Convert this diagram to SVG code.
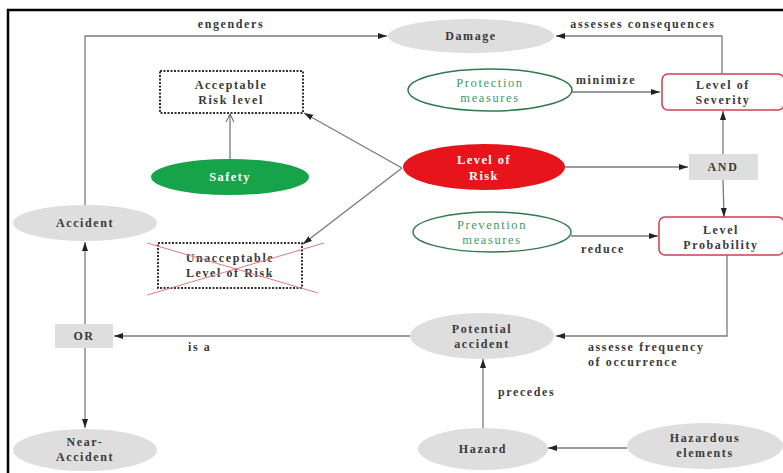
<svg xmlns="http://www.w3.org/2000/svg" width="783" height="473" viewBox="0 0 783 473">
<style>
.t{font-family:"Liberation Serif",serif;font-size:12px;font-weight:bold;fill:#3a3a3a;letter-spacing:1.6px;text-anchor:middle}
.l{font-family:"Liberation Serif",serif;font-size:12px;font-weight:bold;fill:#3a3a3a;letter-spacing:1.6px}
.g{font-family:"Liberation Serif",serif;font-size:12.5px;fill:#3f9a6c;letter-spacing:1.6px;text-anchor:middle}
.w{font-family:"Liberation Serif",serif;font-size:12.5px;font-weight:bold;fill:#ffffff;letter-spacing:1.4px;text-anchor:middle}
.grey{fill:#dedede;stroke:none}
.e{fill:none;stroke:#7a7a7a;stroke-width:1.3}
.dot{fill:#fff;stroke:#333;stroke-width:2;stroke-dasharray:2 1.5}
.sev{fill:#fff;stroke:#cc4050;stroke-width:1.5}
.gm{fill:#fff;stroke:#2f7a4c;stroke-width:1.5}
</style>
<defs>
<marker id="a" markerWidth="10" markerHeight="8" refX="9" refY="4" orient="auto" markerUnits="userSpaceOnUse">
<path d="M0,1 L9,4 L0,7 z" fill="#222"/>
</marker>
<marker id="o" markerWidth="10" markerHeight="10" refX="9" refY="5" orient="auto" markerUnits="userSpaceOnUse">
<path d="M1,1 L9,5 L1,9" fill="none" stroke="#555" stroke-width="1"/>
</marker>
</defs>
<rect x="0" y="0" width="783" height="473" fill="#fff"/>
<path d="M8,473 L8,10 L783,10" fill="none" stroke="#000" stroke-width="2.5"/>

<g id="connectors">
<path class="e" d="M85,205 L85,36 L387,36" marker-end="url(#a)"/>
<path class="e" d="M722,74 L722,36 L556,36" marker-end="url(#a)"/>
<path class="e" d="M230,159 L230,114" marker-end="url(#o)"/>
<path class="e" d="M402,168 L304,113" marker-end="url(#a)"/>
<path class="e" d="M402,168 L303,244" marker-end="url(#a)"/>
<path class="e" d="M572,92 L660,92" marker-end="url(#a)"/>
<path class="e" d="M565,167 L688,167" marker-end="url(#a)"/>
<path class="e" d="M723,154 L723,111" marker-end="url(#a)"/>
<path class="e" d="M723,180 L724,217" marker-end="url(#a)"/>
<path class="e" d="M571,236 L658,236" marker-end="url(#a)"/>
<path class="e" d="M727,255 L727,336 L556,336" marker-end="url(#a)"/>
<path class="e" d="M410,336 L114,336" marker-end="url(#a)"/>
<path class="e" d="M85,324 L85,242" marker-end="url(#a)"/>
<path class="e" d="M85,348 L85,428" marker-end="url(#a)"/>
<path class="e" d="M483,428 L483,359" marker-end="url(#a)"/>
<path class="e" d="M627,448 L548,448" marker-end="url(#a)"/>
<text class="t" x="231" y="28">engenders</text>
<text class="t" x="643" y="28">assesses consequences</text>
<text class="t" x="606" y="84">minimize</text>
<text class="t" x="603" y="253">reduce</text>
<text class="l" x="588" y="351">assesse frequency</text>
<text class="l" x="588" y="366">of occurrence</text>
<text class="l" x="188" y="351">is a</text>
<text class="l" x="498" y="396">precedes</text>
</g>

<g id="damage">
<ellipse class="grey" cx="471" cy="36" rx="83" ry="17"/>
<text class="t" x="471" y="40">Damage</text>
</g>
<g id="acceptable">
<rect class="dot" x="160" y="71" width="143" height="42"/>
<text class="t" x="231" y="89">Acceptable</text>
<text class="t" x="231" y="104">Risk level</text>
</g>
<g id="safety">
<ellipse cx="230" cy="177" rx="79" ry="18" fill="#16a349"/>
<text class="w" x="230" y="181">Safety</text>
</g>
<g id="protection">
<ellipse class="gm" cx="490" cy="90" rx="82" ry="21"/>
<text class="g" x="490" y="87">Protection</text>
<text class="g" x="490" y="102">measures</text>
</g>
<g id="severity">
<rect class="sev" x="662" y="74" width="122" height="36" rx="6"/>
<text class="t" x="723" y="89">Level of</text>
<text class="t" x="723" y="104">Severity</text>
</g>
<g id="risk">
<ellipse cx="484" cy="167" rx="81" ry="23" fill="#e8141b"/>
<text class="w" x="484" y="164">Level of</text>
<text class="w" x="484" y="180">Risk</text>
</g>
<g id="and">
<rect class="grey" x="689" y="154" width="69" height="26"/>
<text class="t" x="723" y="171">AND</text>
</g>
<g id="prevention">
<ellipse class="gm" cx="492" cy="232" rx="79" ry="20"/>
<text class="g" x="492" y="229">Prevention</text>
<text class="g" x="492" y="244">measures</text>
</g>
<g id="probability">
<rect class="sev" x="659" y="217" width="125" height="38" rx="6"/>
<text class="t" x="721" y="234">Level</text>
<text class="t" x="721" y="249">Probability</text>
</g>
<g id="unacceptable">
<rect class="dot" x="158" y="243" width="144" height="45"/>
<text class="t" x="230" y="262">Unacceptable</text>
<text class="t" x="230" y="277">Level of Risk</text>
<path d="M147,243 L318,293 M147,295 L324,243" stroke="#e07a88" stroke-width="1" fill="none"/>
</g>
<g id="accident">
<ellipse class="grey" cx="85" cy="223" rx="72" ry="18"/>
<text class="t" x="85" y="227">Accident</text>
</g>
<g id="or">
<rect class="grey" x="55" y="324" width="58" height="24"/>
<text class="t" x="84" y="340">OR</text>
</g>
<g id="near">
<ellipse class="grey" cx="85" cy="450" rx="72" ry="21"/>
<text class="t" x="85" y="446">Near-</text>
<text class="t" x="85" y="461">Accident</text>
</g>
<g id="potential">
<ellipse class="grey" cx="482" cy="336" rx="72" ry="23"/>
<text class="t" x="482" y="333">Potential</text>
<text class="t" x="482" y="348">accident</text>
</g>
<g id="hazard">
<ellipse class="grey" cx="483" cy="449" rx="65" ry="21"/>
<text class="t" x="483" y="453">Hazard</text>
</g>
<g id="hazardous">
<ellipse class="grey" cx="705" cy="446" rx="78" ry="23"/>
<text class="t" x="705" y="442">Hazardous</text>
<text class="t" x="705" y="457">elements</text>
</g>
</svg>
